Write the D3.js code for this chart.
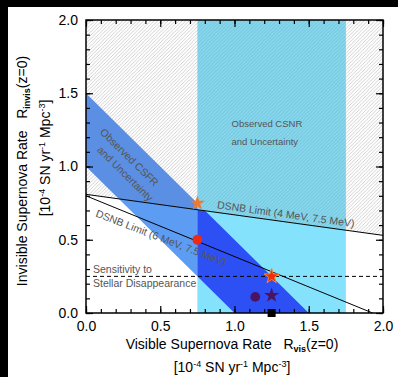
<!DOCTYPE html>
<html>
<head>
<meta charset="utf-8">
<script src="https://cdn.jsdelivr.net/npm/d3@7"></script>
<style>
  body { margin: 0; background: #000; }
  text { font-family: "Liberation Sans", Arial, sans-serif; }
</style>
</head>
<body>
<div id="chart"></div>
<script>
const width = 398, height = 377;

// axis ticks
const majorTicks = [0, 0.5, 1.0, 1.5, 2.0];
const minorTicks = d3.range(0, 2.001, 0.1);

// observed core-collapse SN rate (visible), x-range
const csnrRange = [0.75, 1.75];
// observed CSFR band: R_vis + R_invis between these totals
const csfrTotals = [1.0, 1.5];
// DSNB limit lines, [x, y] end points
const limit4 = [[0, 0.81], [2.0, 0.53]];
const limit6 = [[0, 0.80], [1.93, 0]];
// sensitivity to stellar disappearance
const sensitivity = 0.25;

// model points
const pointX = [0.75, 0.75, 1.25, 1.14, 1.25, 1.25];
const pointY = [0.75, 0.50, 0.25, 0.11, 0.12, 0.0];
const pointShape = ["star", "circle", "star", "circle", "star", "square"];
const pointFill = ["#ec7a32", "#ee2a10", "#f22c0c", "#4a1462", "#4a1462", "#000"];
const pointStroke = ["none", "none", "#f08a30", "none", "none", "none"];

const x = d3.scaleLinear().domain([0, 2]).range([86, 383]);
const y = d3.scaleLinear().domain([0, 2]).range([313, 20]);

const svg = d3.select("#chart")
    .append("svg")
    .attr("width", width)
    .attr("height", height);

// black frame top/left like the original screenshot
svg.append("rect").attr("width", width).attr("height", height).attr("fill", "#000");
svg.append("rect").attr("x", 8).attr("y", 7).attr("width", width - 8).attr("height", height - 7).attr("fill", "#fff");

const defs = svg.append("defs");

function hatch(id, bg, stroke) {
    const p = defs.append("pattern")
        .attr("id", id)
        .attr("patternUnits", "userSpaceOnUse")
        .attr("width", 3.5).attr("height", 3.5);
    p.append("rect").attr("width", 3.5).attr("height", 3.5).attr("fill", bg);
    p.append("path")
        .attr("d", "M-1,1 L1,-1 M0,3.5 L3.5,0 M2.5,4.5 L4.5,2.5")
        .attr("stroke", stroke)
        .attr("stroke-width", 0.7);
}
hatch("hatchGray", "#fff", "#bdbdbd");
hatch("hatchCyan", "#86d6ec", "#6cbcd4");

const line = d3.line().x(d => x(d[0])).y(d => y(d[1]));
const poly = pts => line(pts) + "Z";

// polygons in data space
const above = [[0, 2], [2, 2], limit4[1], limit4[0]];
const below = [[0, 0], [2, 0], limit4[1], limit4[0]];
const band = [[0, csfrTotals[0]], [0, csfrTotals[1]], [csfrTotals[1], 0], [csfrTotals[0], 0]];
const csnrRect = [[csnrRange[0], 0], [csnrRange[0], 2], [csnrRange[1], 2], [csnrRange[1], 0]];
const leftRect = [[0, 0], [0, 2], [csnrRange[0], 2], [csnrRange[0], 0]];

function clip(id, pts) {
    defs.append("clipPath").attr("id", id).append("path").attr("d", poly(pts));
}
clip("cAbove", above);
clip("cBelow", below);
clip("cCsnr", csnrRect);
clip("cLeft", leftRect);

const g = svg.append("g");

// excluded region (above DSNB 4 MeV limit)
g.append("path").attr("d", poly(above)).attr("fill", "url(#hatchGray)");

// CSNR band
g.append("path").attr("d", poly(csnrRect)).attr("clip-path", "url(#cBelow)").attr("fill", "#84e2fd");
g.append("path").attr("d", poly(csnrRect)).attr("clip-path", "url(#cAbove)").attr("fill", "url(#hatchCyan)");

// CSFR band
const left = g.append("g").attr("clip-path", "url(#cLeft)");
left.append("path").attr("d", poly(band)).attr("clip-path", "url(#cAbove)").attr("fill", "#5a8fe4");
left.append("path").attr("d", poly(band)).attr("clip-path", "url(#cBelow)").attr("fill", "#5c9cf3");
g.append("g").attr("clip-path", "url(#cCsnr)")
    .append("path").attr("d", poly(band)).attr("clip-path", "url(#cBelow)").attr("fill", "#2c50f4");

// limit lines
g.append("path").attr("d", line(limit4)).attr("stroke", "#000").attr("fill", "none").attr("stroke-width", 1);
g.append("path").attr("d", line(limit6)).attr("stroke", "#000").attr("fill", "none").attr("stroke-width", 1);
g.append("path").attr("d", line([[0, sensitivity], [2, sensitivity]]))
    .attr("stroke", "#000").attr("fill", "none").attr("stroke-dasharray", "4,3");

// annotations
const ann = svg.append("g").attr("fill", "#555");
function label(tx, ty, angle, s, size) {
    ann.append("text")
        .attr("transform", `translate(${x(tx)},${y(ty)}) rotate(${angle})`)
        .style("font-size", size + "px")
        .text(s);
}
label(0.98, 1.27, 0, "Observed CSNR", 9.5);
label(0.98, 1.15, 0, "and Uncertainty", 9.5);
label(0.09, 1.23, 44.6, "Observed CSFR", 10.5);
label(0.07, 1.11, 44.6, "and Uncertainty", 10.5);
label(0.88, 0.715, 7.9, "DSNB Limit (4 MeV, 7.5 MeV)", 10.5);
label(0.06, 0.66, 21, "DSNB Limit (6 MeV, 7.5 MeV)", 10.5);
label(0.047, 0.27, 0, "Sensitivity to", 10.5);
label(0.047, 0.18, 0, "Stellar Disappearance", 10.5);

// markers
const sym = { star: d3.symbolStar, circle: d3.symbolCircle, square: d3.symbolSquare };
const symSize = { star: 70, circle: 75, square: 64 };
svg.append("g").selectAll("path")
    .data(pointX.map((d, i) => i))
    .join("path")
    .attr("transform", i => `translate(${x(pointX[i])},${y(pointY[i])})`)
    .attr("d", i => d3.symbol(sym[pointShape[i]], symSize[pointShape[i]])())
    .attr("fill", i => pointFill[i])
    .attr("stroke", i => pointStroke[i])
    .attr("stroke-width", 1);

// axes, ticks inside on all four sides
function axis(gen, tr, ticks, len, labels) {
    const a = gen.tickValues(ticks).tickSize(-len).tickPadding(8);
    a.tickFormat(labels ? d3.format(".1f") : "");
    const ag = svg.append("g").attr("transform", tr).call(a);
    ag.select(".domain").remove();
    ag.selectAll("line").attr("stroke", "#000").attr("stroke-width", 1.2);
    ag.selectAll("text").attr("fill", "#000").style("font-size", "14px");
    return ag;
}
axis(d3.axisBottom(x), "translate(0,313)", minorTicks, 4, false);
axis(d3.axisBottom(x), "translate(0,313)", majorTicks, 7, true);
axis(d3.axisTop(x), "translate(0,20)", minorTicks, 4, false);
axis(d3.axisTop(x), "translate(0,20)", majorTicks, 7, false);
axis(d3.axisLeft(y), "translate(86,0)", minorTicks, 4, false);
axis(d3.axisLeft(y), "translate(86,0)", majorTicks, 7, true);
axis(d3.axisRight(y), "translate(383,0)", minorTicks, 4, false);
axis(d3.axisRight(y), "translate(383,0)", majorTicks, 7, false);

svg.append("rect")
    .attr("x", 86).attr("y", 20).attr("width", 297).attr("height", 293)
    .attr("fill", "none").attr("stroke", "#000").attr("stroke-width", 1.5);

// titles
const t = svg.append("g").attr("fill", "#000").style("font-size", "14px");
function rateTitle(sel, main, sub) {
    sel.append("tspan").text(main + "\u00a0\u00a0\u00a0R");
    sel.append("tspan").attr("dy", 3).style("font-size", "9px").style("font-weight", "bold").text(sub);
    sel.append("tspan").attr("dy", -3).text("(z=0)");
}
function unitsTitle(sel) {
    sel.append("tspan").text("[10");
    sel.append("tspan").attr("dy", -5).style("font-size", "9px").text("-4");
    sel.append("tspan").attr("dy", 5).text(" SN yr");
    sel.append("tspan").attr("dy", -5).style("font-size", "9px").text("-1");
    sel.append("tspan").attr("dy", 5).text(" Mpc");
    sel.append("tspan").attr("dy", -5).style("font-size", "9px").text("-3");
    sel.append("tspan").attr("dy", 5).text("]");
}
rateTitle(t.append("text").attr("x", 232).attr("y", 349).attr("text-anchor", "middle"), "Visible Supernova Rate", "vis");
unitsTitle(t.append("text").attr("x", 232).attr("y", 372).attr("text-anchor", "middle"));
rateTitle(t.append("text").attr("transform", "translate(27,171) rotate(-90)").attr("text-anchor", "middle"),
    "Invisible Supernova Rate", "invis");
unitsTitle(t.append("text").attr("transform", "translate(50,158) rotate(-90)").attr("text-anchor", "middle"));
</script>
</body>
</html>
